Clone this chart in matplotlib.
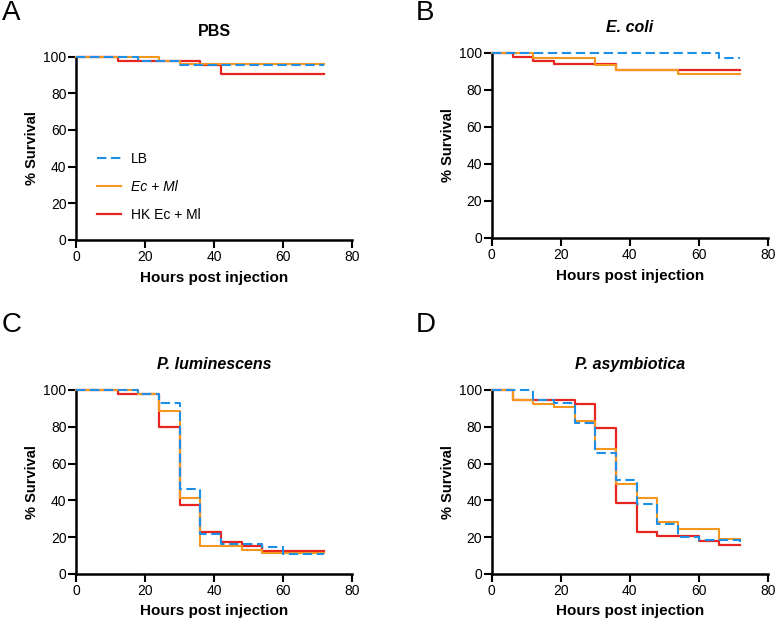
import matplotlib
matplotlib.use("Agg")
import matplotlib.pyplot as plt

plt.rcParams["font.family"] = ["Liberation Sans", "DejaVu Sans"]

# step survival curves: times at which the value starts, last point carries to 72 h
pbs_lb_t = [0, 18, 30, 72]
pbs_lb_v = [100, 97.6, 95.2, 95.2]
pbs_ec_t = [0, 24, 30, 72]
pbs_ec_v = [100, 97.8, 96.0, 96.0]
pbs_hk_t = [0, 12, 36, 42, 72]
pbs_hk_v = [100, 97.6, 95.4, 90.6, 90.6]

eco_lb_t = [0, 66, 72]
eco_lb_v = [100, 97.4, 97.4]
eco_ec_t = [0, 12, 30, 36, 54, 72]
eco_ec_v = [100, 97.5, 93.4, 90.6, 88.6, 88.6]
eco_hk_t = [0, 6, 12, 18, 36, 72]
eco_hk_v = [100, 97.9, 95.9, 94.2, 90.6, 90.6]

plu_lb_t = [0, 18, 24, 30, 36, 42, 54, 60, 72]
plu_lb_v = [100, 98.0, 92.8, 46.3, 21.5, 16.3, 14.6, 10.8, 10.8]
plu_ec_t = [0, 18, 24, 30, 36, 48, 54, 72]
plu_ec_v = [100, 98.0, 88.8, 41.2, 15.0, 13.2, 11.4, 11.4]
plu_hk_t = [0, 12, 24, 30, 36, 42, 48, 54, 72]
plu_hk_v = [100, 97.6, 80.0, 37.4, 22.5, 17.4, 15.0, 12.4, 12.4]

pas_lb_t = [0, 12, 18, 24, 30, 36, 42, 48, 54, 60, 72]
pas_lb_v = [100, 94.6, 92.7, 81.8, 65.5, 50.9, 38.2, 27.3, 20.0, 18.2, 17.5]
pas_ec_t = [0, 6, 12, 18, 24, 30, 36, 42, 48, 54, 66, 72]
pas_ec_v = [100, 94.5, 92.4, 90.5, 83.0, 67.9, 49.0, 41.5, 28.3, 24.5, 18.9, 18.9]
pas_hk_t = [0, 6, 24, 30, 36, 42, 48, 60, 66, 72]
pas_hk_v = [100, 94.7, 92.3, 79.5, 38.5, 23.0, 20.5, 17.9, 15.4, 15.4]

series_labels = ["LB", "Ec + Ml", "HK Ec + Ml"]
series_italic = [False, True, False]
panel_titles = ["PBS", "E. coli", "P. luminescens", "P. asymbiotica"]
title_italic = [False, True, True, True]
panel_letters = ["A", "B", "C", "D"]
x_ticks = [0, 20, 40, 60, 80]
y_ticks = [0, 20, 40, 60, 80, 100]

BLUE = "#1e8fe6"
ORANGE = "#f5961e"
RED = "#e6261e"

panels = [
    [(pbs_lb_t, pbs_lb_v), (pbs_ec_t, pbs_ec_v), (pbs_hk_t, pbs_hk_v)],
    [(eco_lb_t, eco_lb_v), (eco_ec_t, eco_ec_v), (eco_hk_t, eco_hk_v)],
    [(plu_lb_t, plu_lb_v), (plu_ec_t, plu_ec_v), (plu_hk_t, plu_hk_v)],
    [(pas_lb_t, pas_lb_v), (pas_ec_t, pas_ec_v), (pas_hk_t, pas_hk_v)],
]

# axes rectangles in figure fractions
rects = [
    [0.098, 0.615, 0.355, 0.294],
    [0.633, 0.618, 0.355, 0.297],
    [0.098, 0.079, 0.355, 0.295],
    [0.633, 0.079, 0.355, 0.295],
]
letter_pos = [(0.002, 1.0), (0.535, 1.0), (0.002, 0.5), (0.535, 0.5)]

fig = plt.figure(figsize=(7.77, 6.23), dpi=100)

for i, (rect, curves) in enumerate(zip(rects, panels)):
    ax = fig.add_axes(rect)
    styles = [
        dict(color=BLUE, linestyle=(0, (4.5, 2.2)), linewidth=1.5, zorder=4),
        dict(color=ORANGE, linestyle="-", linewidth=1.5, zorder=3),
        dict(color=RED, linestyle="-", linewidth=1.6, zorder=2),
    ]
    for (t, v), st, lab in zip(curves, styles, series_labels):
        ax.step(t, v, where="post", label=lab, clip_on=False, **st)
    ax.set_xlim(0, 80)
    ax.set_ylim(0, 100)
    ax.set_xticks(x_ticks)
    ax.set_yticks(y_ticks)
    for side in ("top", "right"):
        ax.spines[side].set_visible(False)
    for side in ("left", "bottom"):
        ax.spines[side].set_linewidth(1.8)
    ax.tick_params(direction="out", length=5.5, width=1.5, labelsize=10, pad=1.5)
    ax.set_xlabel("Hours post injection", fontsize=11, fontweight="bold", labelpad=5)
    ax.set_ylabel("% Survival", fontsize=10.5, fontweight="bold", labelpad=3)
    ax.set_title(panel_titles[i], fontsize=11.5, fontweight="bold",
                 fontstyle="italic" if title_italic[i] else "normal", pad=15)
    if i == 0:
        leg = ax.legend(loc="lower left", bbox_to_anchor=(0.03, 0.03), frameon=False,
                        fontsize=10, handlelength=1.7, handletextpad=0.75, labelspacing=1.0)
        for txt, it in zip(leg.get_texts(), series_italic):
            if it:
                txt.set_fontstyle("italic")
    fig.text(letter_pos[i][0], letter_pos[i][1], panel_letters[i], fontsize=20,
             ha="left", va="top")

fig.savefig("out.png", dpi=100)
